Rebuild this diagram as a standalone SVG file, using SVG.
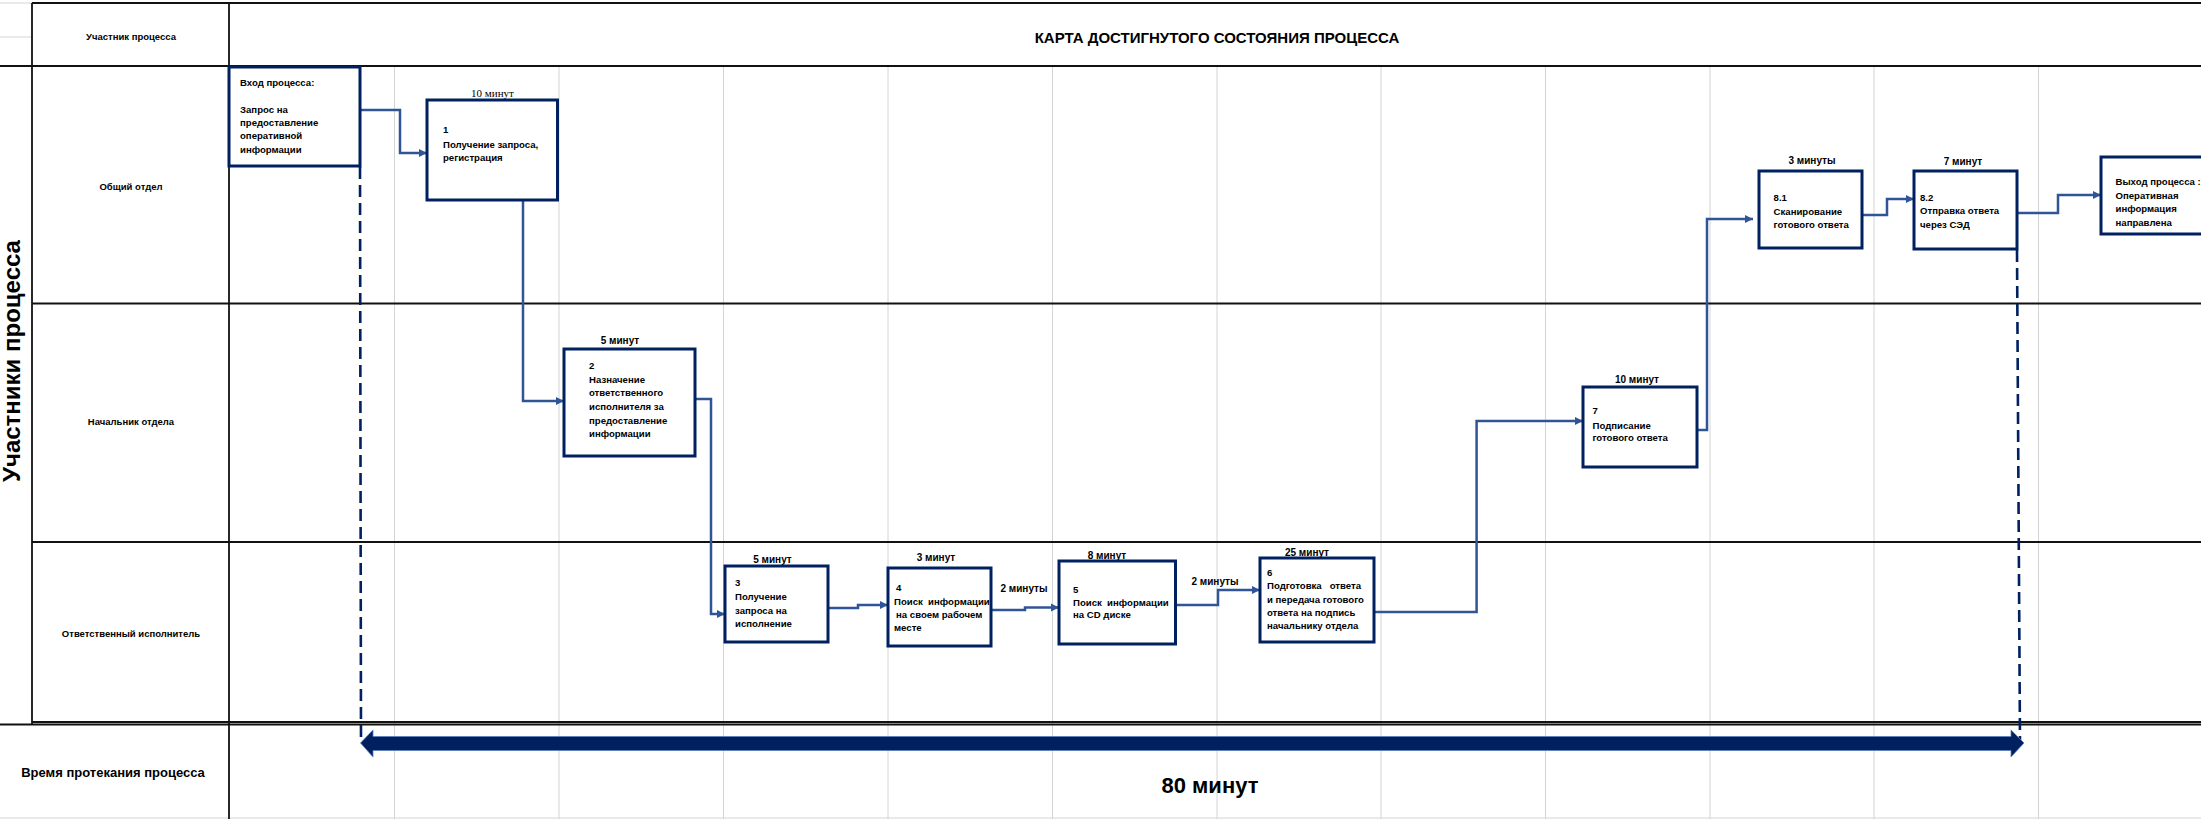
<svg xmlns="http://www.w3.org/2000/svg" width="2201" height="819" viewBox="0 0 2201 819">
<defs>
<style>
.grid{stroke:#d4d4d4;stroke-width:1;fill:none}
.frame{stroke:#111;stroke-width:1.8;fill:none}
.box{fill:#fff;stroke:#002060;stroke-width:3}
.con{fill:none;stroke:#2F5597;stroke-width:2.5;marker-end:url(#arr)}
.dash{fill:none;stroke:#002060;stroke-width:2.6;stroke-dasharray:12 6}
.t{font-family:"Liberation Sans",Arial,sans-serif;font-weight:bold;font-size:9.6px;fill:#000}
.lbl{font-family:"Liberation Sans",Arial,sans-serif;font-weight:bold;font-size:10px;fill:#000;text-anchor:middle}
.lane{font-family:"Liberation Sans",Arial,sans-serif;font-weight:bold;font-size:9.5px;fill:#000;text-anchor:middle}
</style>
<marker id="arr" markerUnits="userSpaceOnUse" markerWidth="9" markerHeight="9" refX="8" refY="4.5" orient="auto">
<path d="M0,0.5 L8,4.5 L0,8.5 z" fill="#2F5597"/>
</marker>
</defs>
<rect width="2201" height="819" fill="#fff"/>

<g id="grid">
<g class="grid">
<line x1="394.5" y1="66" x2="394.5" y2="819"/>
<line x1="559" y1="66" x2="559" y2="819"/>
<line x1="723.5" y1="66" x2="723.5" y2="819"/>
<line x1="888" y1="66" x2="888" y2="819"/>
<line x1="1052.5" y1="66" x2="1052.5" y2="819"/>
<line x1="1217" y1="66" x2="1217" y2="819"/>
<line x1="1381" y1="66" x2="1381" y2="819"/>
<line x1="1545.5" y1="66" x2="1545.5" y2="819"/>
<line x1="1710" y1="66" x2="1710" y2="819"/>
<line x1="1874" y1="66" x2="1874" y2="819"/>
<line x1="2038.5" y1="66" x2="2038.5" y2="819"/>
<line x1="0" y1="3" x2="32" y2="3"/>
<line x1="0" y1="37" x2="32" y2="37"/>
<line x1="0" y1="818" x2="2201" y2="818"/>
</g>
<g class="frame">
<line x1="32" y1="3" x2="2201" y2="3"/>
<line x1="0" y1="66" x2="2201" y2="66"/>
<line x1="32" y1="303.5" x2="2201" y2="303.5"/>
<line x1="32" y1="542" x2="2201" y2="542"/>
<line x1="32" y1="722" x2="2201" y2="722"/>
<line x1="0" y1="724.5" x2="2201" y2="724.5"/>
<line x1="32" y1="3" x2="32" y2="724"/>
<line x1="229" y1="3" x2="229" y2="819"/>
</g>
</g>

<g id="headers">
<text class="lane" x="131" y="39.5">Участник процесса</text>
<text x="1217" y="42.5" text-anchor="middle" font-family="Liberation Sans, Arial, sans-serif" font-weight="bold" font-size="15">КАРТА ДОСТИГНУТОГО СОСТОЯНИЯ ПРОЦЕССА</text>
<text transform="translate(20,361) rotate(-90)" text-anchor="middle" font-family="Liberation Sans, Arial, sans-serif" font-weight="bold" font-size="24">Участники процесса</text>
<text class="lane" x="131" y="189.5">Общий отдел</text>
<text class="lane" x="131" y="424.5">Начальник отдела</text>
<text class="lane" x="131" y="636.5">Ответственный исполнитель</text>
<text x="113" y="776.5" text-anchor="middle" font-family="Liberation Sans, Arial, sans-serif" font-weight="bold" font-size="13">Время протекания процесса</text>
</g>

<g id="timeline">
<line class="dash" x1="360" y1="167" x2="361" y2="742"/>
<line class="dash" x1="2017" y1="250" x2="2020" y2="742"/>
<polygon points="360.5,743 373,730 373,736.5 2011,736.5 2011,730 2024,743 2011,757 2011,750.5 373,750.5 373,757" fill="#002060" stroke="#5b7fbf" stroke-width="0.8"/>
<text x="1210" y="793" text-anchor="middle" font-family="Liberation Sans, Arial, sans-serif" font-weight="bold" font-size="22">80 минут</text>
</g>

<g id="connectors">
<path class="con" d="M360,110 H400 V153 H427"/>
<path class="con" d="M523,200 V401 H564"/>
<path class="con" d="M695,399 H711 V614 H725"/>
<path class="con" d="M824.5,608 H858 V605 H888"/>
<path class="con" d="M991,610 H1025 V607.5 H1059"/>
<path class="con" d="M1175,605 H1218 V590 H1260"/>
<path class="con" d="M1370,612 H1476.6 V421 H1583"/>
<path class="con" d="M1697,430 H1707 V219 H1753"/>
<path class="con" d="M1862,215 H1887 V199 H1914"/>
<path class="con" d="M2017,213 H2058 V195 H2101"/>
</g>

<g id="node-input">
<rect class="box" x="229" y="67" width="131" height="99"/>
<text class="t" x="240" y="85.5">Вход процесса:</text>
<text class="t" x="240" y="112.5">Запрос на</text>
<text class="t" x="240" y="125.9">предоставление</text>
<text class="t" x="240" y="139.3">оперативной</text>
<text class="t" x="240" y="152.7">информации</text>
</g>

<g id="node-1">
<text x="492.5" y="96.5" text-anchor="middle" font-family="Liberation Serif, Times New Roman, serif" font-size="11">10 минут</text>
<rect class="box" x="427" y="100" width="130.5" height="100"/>
<text class="t" x="443" y="132.5">1</text>
<text class="t" x="443" y="147.5">Получение запроса,</text>
<text class="t" x="443" y="160.5">регистрация</text>
</g>

<g id="node-2">
<text class="lbl" x="620" y="343.5">5 минут</text>
<rect class="box" x="564" y="349" width="131" height="107"/>
<text class="t" x="589" y="369.2">2</text>
<text class="t" x="589" y="383.2">Назначение</text>
<text class="t" x="589" y="396.2">ответственного</text>
<text class="t" x="589" y="409.5">исполнителя за</text>
<text class="t" x="589" y="423.5">предоставление</text>
<text class="t" x="589" y="437.2">информации</text>
</g>

<g id="node-3">
<text class="lbl" x="772.5" y="562.5">5 минут</text>
<rect class="box" x="725" y="566" width="103" height="76"/>
<text class="t" x="735" y="586.2">3</text>
<text class="t" x="735" y="600.2">Получение</text>
<text class="t" x="735" y="613.5">запроса на</text>
<text class="t" x="735" y="627.2">исполнение</text>
</g>

<g id="node-4">
<text class="lbl" x="936" y="560.5">3 минут</text>
<rect class="box" x="888" y="568" width="103" height="78"/>
<text class="t" x="896" y="590.8">4</text>
<text class="t" x="894" y="604.5" xml:space="preserve">Поиск  информации</text>
<text class="t" x="896" y="618.2">на своем рабочем</text>
<text class="t" x="894" y="631.2">месте</text>
</g>

<g id="node-5">
<text class="lbl" x="1024" y="591.5">2 минуты</text>
<text class="lbl" x="1107" y="558.5">8 минут</text>
<rect class="box" x="1059" y="561" width="116.5" height="83"/>
<text class="t" x="1073" y="592.5">5</text>
<text class="t" x="1073" y="605.5" xml:space="preserve">Поиск  информации</text>
<text class="t" x="1073" y="617.5">на CD диске</text>
</g>

<g id="node-6">
<text class="lbl" x="1215" y="584.5">2 минуты</text>
<text class="lbl" x="1307" y="555.5">25 минут</text>
<rect class="box" x="1260" y="558" width="114" height="84"/>
<text class="t" x="1267" y="575.5">6</text>
<text class="t" x="1267" y="589.2" xml:space="preserve">Подготовка   ответа</text>
<text class="t" x="1267" y="602.5">и передача готового</text>
<text class="t" x="1267" y="616.2">ответа на подпись</text>
<text class="t" x="1267" y="629.2">начальнику отдела</text>
</g>

<g id="node-7">
<text class="lbl" x="1637" y="382.5">10 минут</text>
<rect class="box" x="1583" y="387" width="114" height="80"/>
<text class="t" x="1592.5" y="414.2">7</text>
<text class="t" x="1592.5" y="428.5">Подписание</text>
<text class="t" x="1592.5" y="441.2">готового ответа</text>
</g>

<g id="node-8-1">
<text class="lbl" x="1812" y="163.5">3 минуты</text>
<rect class="box" x="1759" y="171" width="103" height="77"/>
<text class="t" x="1773.6" y="201.2">8.1</text>
<text class="t" x="1773.6" y="215.2">Сканирование</text>
<text class="t" x="1773.6" y="228.2">готового ответа</text>
</g>

<g id="node-8-2">
<text class="lbl" x="1963" y="164.5">7 минут</text>
<rect class="box" x="1914" y="171" width="103" height="78"/>
<text class="t" x="1920" y="201.2">8.2</text>
<text class="t" x="1920" y="214.2">Отправка ответа</text>
<text class="t" x="1920" y="228.2">через СЭД</text>
</g>

<g id="node-output">
<rect class="box" x="2101" y="157" width="110" height="77"/>
<text class="t" x="2115.5" y="185.2">Выход процесса :</text>
<text class="t" x="2115.5" y="198.5">Оперативная</text>
<text class="t" x="2115.5" y="212.2">информация</text>
<text class="t" x="2115.5" y="226.2">направлена</text>
</g>
</svg>
